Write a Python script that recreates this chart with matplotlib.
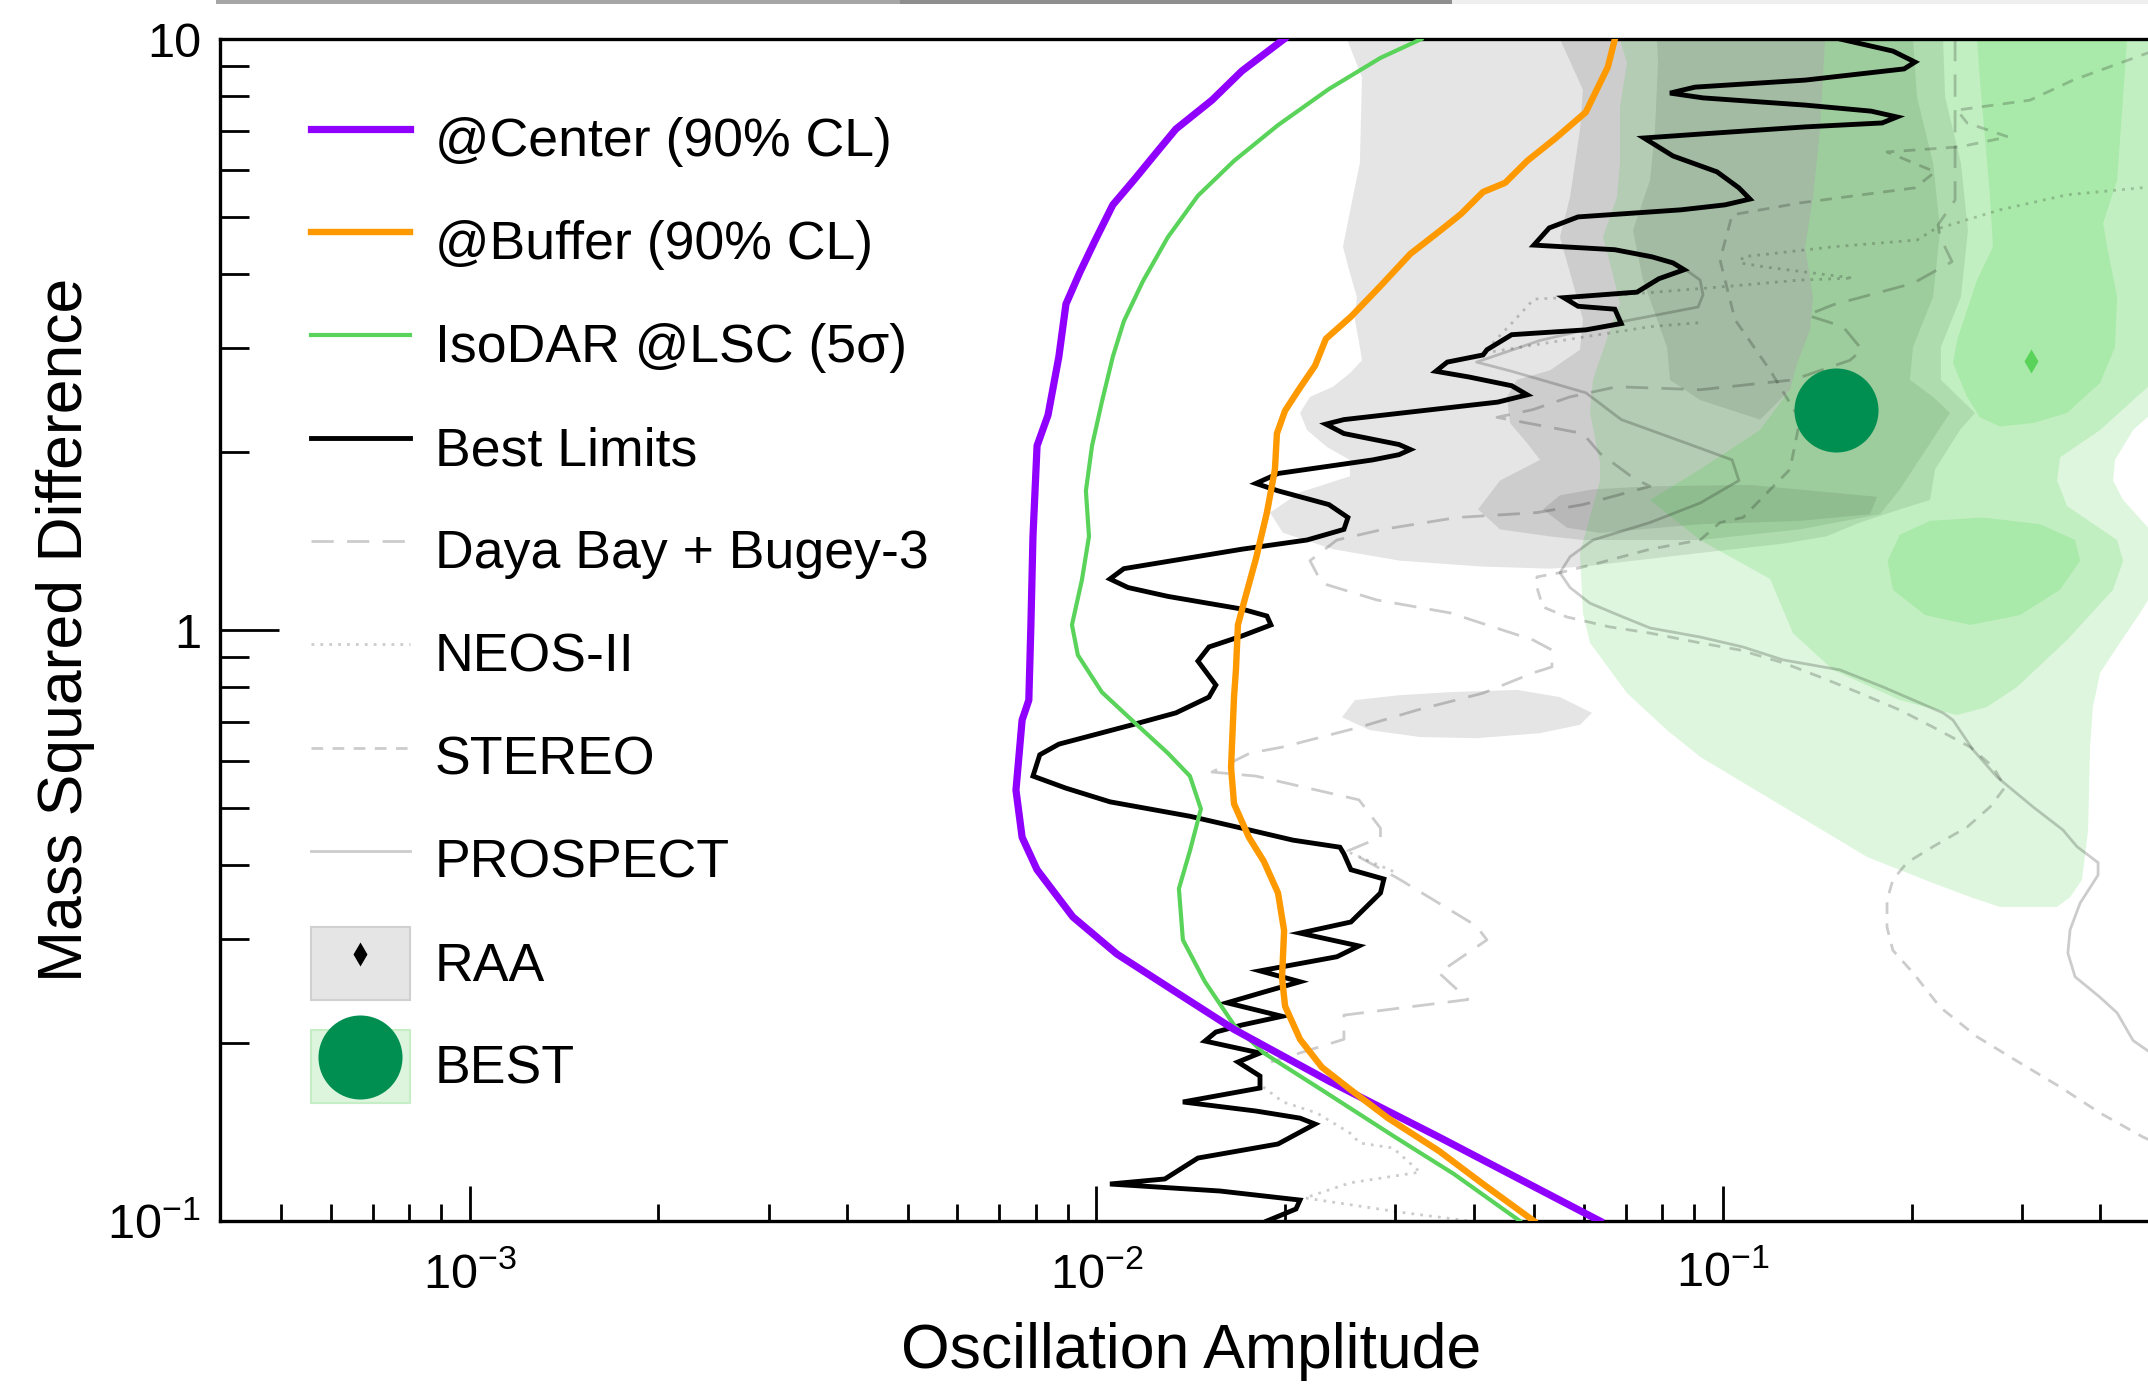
import numpy as np
import matplotlib
matplotlib.use("Agg")
import matplotlib.pyplot as plt
from matplotlib.lines import Line2D
from matplotlib.patches import Patch, Rectangle
from matplotlib.ticker import FixedLocator, FixedFormatter, LogLocator, NullFormatter

plt.rcParams['font.family'] = ['Liberation Sans', 'DejaVu Sans']
plt.rcParams['mathtext.fontset'] = 'custom'
plt.rcParams['mathtext.rm'] = 'Liberation Sans'
plt.rcParams['mathtext.it'] = 'Liberation Sans:italic'
plt.rcParams['mathtext.bf'] = 'Liberation Sans:bold'

nan = float('nan')

# ---------------- data (sin^2 2theta, dm^2) ----------------
center_x = [0.01993, 0.01707, 0.01529, 0.01339, 0.01249, 0.01152, 0.01062, 0.00994, 0.00941, 0.00894,
            0.00871, 0.00837, 0.00804, 0.00792, 0.00786, 0.00780, 0.00761, 0.00744, 0.00761, 0.00804,
            0.00917, 0.01078, 0.01339, 0.01658, 0.0235, 0.0352, 0.0636]
center_y = [10, 8.83, 7.88, 7.04, 6.44, 5.80, 5.24, 4.55, 4.03, 3.56, 2.90, 2.31, 2.05, 1.44, 1.02,
            0.761, 0.704, 0.536, 0.446, 0.393, 0.327, 0.283, 0.244, 0.211, 0.1725, 0.1387, 0.1]

buffer_x = [0.0672, 0.0655, 0.0604, 0.0541, 0.0487, 0.0449, 0.0414, 0.0382, 0.0352, 0.0317,
            0.0284, 0.02548, 0.02324, 0.02233, 0.02113, 0.02000, 0.01941, 0.01927, 0.01871, 0.01797,
            0.01726, 0.01682, 0.01670, 0.01658, 0.01640, 0.01658, 0.01751, 0.01850, 0.01949, 0.01993,
            0.01978, 0.0200, 0.02113, 0.02290, 0.02548, 0.0292, 0.0352, 0.0414, 0.0499]
buffer_y = [10, 8.97, 7.52, 6.80, 6.22, 5.71, 5.51, 5.06, 4.72, 4.33, 3.82, 3.39, 3.11, 2.80, 2.57,
            2.35, 2.15, 1.87, 1.58, 1.32, 1.13, 1.02, 0.859, 0.770, 0.586, 0.508, 0.446, 0.406, 0.359,
            0.310, 0.258, 0.231, 0.203, 0.182, 0.1666, 0.1493, 0.1314, 0.1155, 0.1]

isodar_x = [0.0330, 0.0284, 0.0235, 0.01949, 0.01658, 0.01452, 0.01300, 0.01186, 0.01106, 0.01062,
            0.01020, 0.00984, 0.00962, 0.00973, 0.00948, 0.00914, 0.00934, 0.01020, 0.01139, 0.01300,
            0.01410, 0.01468, 0.01410, 0.01354, 0.01374, 0.01490, 0.01658, 0.01850, 0.02290, 0.02996,
            0.0372, 0.0474]
isodar_y = [10, 9.29, 8.23, 7.15, 6.22, 5.43, 4.62, 3.89, 3.33, 2.90, 2.43, 2.05, 1.72, 1.44, 1.215,
            1.02, 0.907, 0.785, 0.704, 0.619, 0.566, 0.498, 0.423, 0.365, 0.299, 0.254, 0.2146, 0.1924,
            0.1666, 0.1387, 0.1201, 0.1]

bestlim_x = [0.1537, 0.1867, 0.2025, 0.1945, 0.1352, 0.0902, 0.0823, 0.0929, 0.1352, 0.1723,
             0.1895, 0.1794, 0.1352, 0.0929, 0.0748, 0.0832, 0.0978, 0.1060, 0.1104, 0.1007,
             0.0857, 0.0587, 0.0528, 0.0499, 0.0672, 0.0770, 0.0832, 0.0867, 0.0790, 0.0729,
             0.0557, 0.0587, 0.0672, 0.0688, 0.0604, 0.0460, 0.0420, 0.0414, 0.0363, 0.0348,
             0.0393, 0.0460, 0.0487, 0.0437, 0.02483, 0.02324, 0.02483, 0.0304, 0.0317, 0.0304,
             0.0276, 0.01949, 0.01797, 0.01949, 0.0235, 0.02520, 0.02483, 0.02168, 0.01707, 0.01106,
             0.01051, 0.01123, 0.01300, 0.01707, 0.01871, 0.01899, 0.01707, 0.01512, 0.01452, 0.01551,
             0.01512, 0.01339, 0.01139, 0.00871, 0.00812, 0.00792, 0.00894, 0.01051, 0.01410, 0.01707,
             0.02059, 0.02447, 0.02483, 0.02548, 0.02876, 0.0284, 0.02548, 0.02113, 0.02624, 0.02420,
             0.01824, 0.02113, 0.01850, 0.01616, 0.01978, 0.01707, 0.01551, 0.01490, 0.01824, 0.01682,
             0.01824, 0.01824, 0.01374, 0.01797, 0.02113, 0.02233, 0.01949, 0.01452, 0.01286, 0.01051,
             0.01574, 0.02113, 0.02082, 0.01871]
bestlim_y = [10, 9.54, 9.14, 8.90, 8.52, 8.29, 8.10, 7.95, 7.73, 7.55,
             7.38, 7.21, 7.10, 6.91, 6.80, 6.34, 5.96, 5.60, 5.36, 5.24,
             5.14, 5.00, 4.79, 4.48, 4.40, 4.28, 4.18, 4.07, 3.93, 3.73,
             3.65, 3.53, 3.49, 3.30, 3.22, 3.16, 2.98, 2.92, 2.84, 2.74,
             2.68, 2.59, 2.50, 2.43, 2.27, 2.23, 2.15, 2.06, 2.02, 1.98,
             1.94, 1.84, 1.77, 1.72, 1.63, 1.55, 1.48, 1.42, 1.37, 1.27,
             1.22, 1.18, 1.14, 1.085, 1.056, 1.02, 0.977, 0.936, 0.886, 0.807,
             0.770, 0.724, 0.691, 0.641, 0.615, 0.566, 0.540, 0.512, 0.484, 0.462,
             0.441, 0.429, 0.418, 0.393, 0.379, 0.359, 0.3206, 0.307, 0.292, 0.280,
             0.265, 0.254, 0.244, 0.234, 0.222, 0.2146, 0.2088, 0.2016, 0.1924, 0.1858,
             0.1759, 0.1679, 0.1590, 0.1535, 0.1493, 0.1459, 0.1350, 0.1278, 0.1178, 0.1155,
             0.1124, 0.1085, 0.1048, 0.1]

dayabay_x = [0.2346, 0.2346, 0.2204, 0.2221, 0.2320, 0.2010, 0.1498, 0.1362, 0.1554, 0.1667,
             0.1594, 0.1293, 0.09193, 0.06772, 0.05699, 0.04973, 0.04358, 0.05977, 0.06363, 0.07183,
             0.07647, 0.05977, 0.05047, 0.03762, 0.02866, 0.02420, 0.02192, 0.02290, 0.02803, 0.03666,
             0.04973, 0.05333, 0.05333, 0.04973, 0.0414, 0.03248, 0.02633, 0.01985, 0.01758, 0.01529,
             0.01797, 0.02624, 0.0284, 0.0284, 0.02520, 0.0304, 0.04034, 0.0420, 0.0352, 0.03917,
             0.02483, 0.02483, 0.01899]
dayabay_y = [10, 5.34, 4.85, 4.62, 4.20, 3.86, 3.55, 3.41, 3.26, 2.98,
             2.86, 2.65, 2.55, 2.58, 2.48, 2.36, 2.29, 2.15, 1.99, 1.81,
             1.75, 1.63, 1.58, 1.55, 1.48, 1.42, 1.31, 1.20, 1.124, 1.069,
             0.962, 0.925, 0.866, 0.846, 0.782, 0.732, 0.685, 0.634, 0.619, 0.575,
             0.566, 0.516, 0.462, 0.446, 0.423, 0.379, 0.316, 0.299, 0.263, 0.237,
             0.223, 0.203, 0.1858]

neos_x = [0.09126, 0.07647, 0.05977, 0.0414, 0.04571, 0.0499, 0.0688, 0.1034, 0.1327, 0.1612,
          0.1175, 0.1064, 0.1076, 0.1498, 0.2040, 0.2164, 0.2767, 0.3541, 0.5, nan,
          0.02538, 0.03018, nan,
          0.01845, 0.01985, 0.02249, 0.02538, 0.02633, 0.02974, 0.03284, 0.02538, 0.02152, 0.03051, 0.03946]
neos_y = [3.31, 3.26, 3.13, 2.94, 3.28, 3.63, 3.69, 3.82, 3.91, 3.94,
          4.11, 4.18, 4.28, 4.45, 4.57, 4.75, 5.14, 5.45, 5.64, nan,
          0.420, 0.388, nan,
          0.1686, 0.1590, 0.1523, 0.1409, 0.1355, 0.1329, 0.1210, 0.1160, 0.1094, 0.1035, 0.1]

stereo_x = [0.5, 0.4680, 0.3998, 0.3451, 0.2979, 0.2543, 0.2221, 0.2010, 0.1867, 0.1827,
            0.1827, 0.1867, 0.1966, 0.2164, 0.2452, 0.2668, 0.2819, 0.2697, 0.2479, 0.2164,
            0.1916, 0.1654, 0.1444, 0.1247, 0.1064, 0.09193, 0.07647, 0.06600, 0.05636, 0.05159,
            0.05047, 0.05047, 0.05492, 0.06363, 0.07647, 0.09193, 0.09890, 0.1076, 0.1279, 0.1327,
            0.1189, 0.1045, 0.09890, 0.1034, 0.1327, 0.2025, 0.2180, 0.1827, 0.2389, 0.2850,
            0.2452, 0.2363, 0.3090, 0.3620, 0.5]
stereo_y = [0.1345, 0.1387, 0.1523, 0.1686, 0.1851, 0.205, 0.230, 0.263, 0.287, 0.314,
            0.349, 0.378, 0.404, 0.430, 0.464, 0.502, 0.542, 0.587, 0.634, 0.685,
            0.732, 0.782, 0.829, 0.880, 0.925, 0.951, 0.988, 1.012, 1.052, 1.094,
            1.18, 1.23, 1.25, 1.30, 1.37, 1.42, 1.52, 1.55, 1.87, 2.27,
            2.75, 3.35, 4.23, 5.04, 5.28, 5.60, 5.96, 6.44, 6.57, 6.83,
            7.21, 7.58, 7.88, 8.52, 9.65]

prospect_x = [0.08634, 0.09193, 0.0929, 0.09126, 0.06848, 0.05103, 0.04043, 0.0460, 0.0604, 0.0688,
              0.08858, 0.1034, 0.1060, 0.09193, 0.07647, 0.06201, 0.05699, 0.05492, 0.05699, 0.06133,
              0.06924, 0.07647, 0.09193, 0.1076, 0.1247, 0.1537, 0.1800, 0.2245, 0.2328, 0.2506,
              0.2737, 0.3124, 0.3486, 0.3672, 0.3968, 0.3968, 0.3714, 0.3580, 0.3551, 0.3646,
              0.3998, 0.4255, 0.4513, 0.5]
prospect_y = [4.10, 3.91, 3.69, 3.52, 3.32, 3.09, 2.84, 2.74, 2.52, 2.27,
              2.06, 1.94, 1.79, 1.64, 1.52, 1.42, 1.33, 1.25, 1.18, 1.11,
              1.052, 1.008, 0.973, 0.936, 0.890, 0.856, 0.801, 0.724, 0.704, 0.627,
              0.564, 0.502, 0.459, 0.430, 0.404, 0.385, 0.345, 0.311, 0.284, 0.259,
              0.239, 0.225, 0.202, 0.1873]

# RAA allowed regions (outer, middle, inner)
raa_outer_x = [0.02510, 0.02653, 0.02633, 0.02566, 0.02474, 0.02538, 0.02604, 0.02585, 0.02633, 0.02653,
               0.02538, 0.02385, 0.02192, 0.02113, 0.02168, 0.02333, 0.02538, 0.02538, 0.02113, 0.01892,
               0.01985, 0.02385, 0.03051, 0.0414, 0.05294, 0.05977, 0.09193, 0.1247, 0.1462, 0.1654,
               0.1916, 0.2140, 0.2180, 0.2389, 0.2524, 0.2227, 0.2227, 0.2397, 0.2460, 0.2397,
               0.2262, 0.2245]
raa_outer_y = [10, 8.62, 6.17, 5.40, 4.45, 4.02, 3.66, 3.35, 3.01, 2.86,
               2.72, 2.58, 2.48, 2.33, 2.18, 2.04, 1.94, 1.82, 1.71, 1.58,
               1.46, 1.37, 1.31, 1.28, 1.27, 1.28, 1.35, 1.40, 1.44, 1.52,
               1.60, 1.66, 1.87, 2.18, 2.33, 2.65, 3.01, 3.66, 4.75, 6.17,
               7.98, 10]
raa_island_x = [0.02465, 0.02585, 0.03051, 0.03666, 0.04690, 0.05492, 0.06178, 0.05911, 0.05103, 0.04043,
                0.03284, 0.02732]
raa_island_y = [0.712, 0.761, 0.776, 0.785, 0.792, 0.770, 0.724, 0.691, 0.669, 0.656, 0.659, 0.677]
raa_mid_x = [0.05492, 0.05977, 0.05911, 0.05699, 0.05492, 0.05762, 0.05977, 0.05911, 0.05294, 0.04690,
             0.04521, 0.04571, 0.0487, 0.05103, 0.04406, 0.04064, 0.04406, 0.05294, 0.05977, 0.09193,
             0.1327, 0.1781, 0.1916, 0.2303, 0.2164, 0.1988, 0.2010, 0.2164, 0.2221, 0.2164,
             0.2040, 0.2010]
raa_mid_y = [10, 8.20, 7.02, 5.40, 4.62, 3.86, 3.35, 2.98, 2.75, 2.65,
             2.48, 2.24, 2.07, 1.94, 1.79, 1.60, 1.48, 1.44, 1.42, 1.42,
             1.48, 1.57, 1.73, 2.33, 2.48, 2.65, 3.01, 3.66, 4.75, 6.17,
             7.98, 10]
raa_inner_x = [0.07846, 0.07875, 0.07789, 0.07647, 0.07183, 0.07452, 0.08140, 0.0823, 0.09193, 0.1146,
               0.1279, 0.1313, 0.1377, 0.1392, 0.1352, 0.1392, 0.1428, 0.1455]
raa_inner_y = [10, 9.11, 7.02, 5.77, 4.75, 3.91, 3.01, 2.65, 2.45, 2.27,
               2.55, 2.83, 3.22, 3.66, 4.45, 5.40, 7.02, 10]
raa_core_x = [0.05159, 0.05492, 0.06201, 0.07647, 0.1104, 0.1761, 0.1716, 0.1327, 0.09193, 0.06363, 0.05636]
raa_core_y = [1.60, 1.69, 1.73, 1.75, 1.76, 1.68, 1.57, 1.53, 1.51, 1.46, 1.49]

# BEST allowed regions
best_outer_x = [0.06848, 0.07027, 0.06848, 0.06848, 0.06772, 0.06433, 0.06600, 0.06848, 0.06600, 0.06201,
                0.06133, 0.06363, 0.06363, 0.05911, 0.05977, 0.06133, 0.07027, 0.08140, 0.09193, 0.1175,
                0.1698, 0.2164, 0.2506, 0.2767, 0.3413, 0.3580, 0.3741, 0.3825, 0.3853, 0.3893,
                0.3998, 0.4255, 0.4631, 0.5, 0.5, 0.4769, 0.4350, 0.4193, 0.4222, 0.4513,
                0.5, 0.5]
best_outer_y = [10, 9.11, 7.67, 6.17, 5.40, 4.62, 4.18, 3.57, 3.22, 2.65,
                2.33, 1.92, 1.79, 1.35, 1.069, 0.951, 0.782, 0.677, 0.610, 0.522,
                0.413, 0.373, 0.352, 0.340, 0.340, 0.353, 0.378, 0.459, 0.634, 0.741,
                0.846, 0.936, 1.069, 1.22, 1.42, 1.49, 1.66, 1.79, 1.94, 2.18,
                2.40, 10]
best_mid_x = [0.1455, 0.1428, 0.1392, 0.1352, 0.1392, 0.1377, 0.1313, 0.1279, 0.1146, 0.09193,
              0.07647, 0.09193, 0.1189, 0.1293, 0.1498, 0.1916, 0.2363, 0.2638, 0.2946, 0.3541,
              0.4193, 0.4350, 0.4255, 0.3541, 0.3413, 0.3451, 0.3998, 0.5, 0.5]
best_mid_y = [10, 7.02, 5.40, 4.45, 3.66, 3.22, 2.83, 2.55, 2.18, 1.87,
              1.66, 1.42, 1.22, 0.988, 0.856, 0.761, 0.718, 0.741, 0.801, 0.962,
              1.17, 1.31, 1.42, 1.62, 1.79, 1.96, 2.18, 2.70, 10]
best_inner_x = [0.2543, 0.2571, 0.2668, 0.2697, 0.2543, 0.2363, 0.2328, 0.2452, 0.2571, 0.2767,
                0.3124, 0.3541, 0.3998, 0.4222, 0.4255, 0.4102, 0.4042, 0.4255, 0.4350, 0.4414]
best_inner_y = [10, 8.52, 5.40, 4.45, 3.91, 3.09, 2.83, 2.48, 2.29, 2.21,
                2.24, 2.33, 2.62, 3.01, 3.66, 4.45, 4.88, 5.77, 7.98, 10]
best_inner2_x = [0.1831, 0.1916, 0.2140, 0.2600, 0.3206, 0.3646, 0.3714, 0.3451, 0.2979, 0.2479, 0.2101, 0.1867]
best_inner2_y = [1.31, 1.45, 1.53, 1.55, 1.51, 1.42, 1.31, 1.17, 1.06, 1.02, 1.06, 1.17]

best_fit_x = [0.1515]
best_fit_y = [2.356]
best_pt_x = [0.310]
best_pt_y = [2.852]

x_ticks = [1e-3, 1e-2, 1e-1]
x_ticklabels = [r'$\mathdefault{10^{-3}}$', r'$\mathdefault{10^{-2}}$', r'$\mathdefault{10^{-1}}$']
y_ticks = [0.1, 1, 10]
y_ticklabels = [r'$\mathdefault{10^{-1}}$', '1', '10']

labels = ['@Center (90% CL)', '@Buffer (90% CL)', 'IsoDAR @LSC (5σ)', 'Best Limits',
          'Daya Bay + Bugey-3', 'NEOS-II', 'STEREO', 'PROSPECT', 'RAA', 'BEST']

# ---------------- styles ----------------
C_PURPLE = '#9000ff'
C_ORANGE = '#ff9900'
C_GREEN = '#5ad35a'
C_BESTDOT = '#008f50'
GRAY_LINE = (0, 0, 0, 0.2)
LS_DB = (0, (8, 4.8))
LS_NEOS = (0, (1.0, 2.2))
LS_STEREO = (0, (4.2, 3.4))

fig = plt.figure(figsize=(21.48, 13.84), dpi=100)
ax = fig.add_axes([0.10265, 0.11777, 0.90340, 0.85405])
ax.set_xscale('log')
ax.set_yscale('log')
ax.set_xlim(4e-4, 0.5)
ax.set_ylim(0.1, 10)

# filled regions
for xs, ys in [(raa_outer_x, raa_outer_y), (raa_island_x, raa_island_y), (raa_mid_x, raa_mid_y),
               (raa_inner_x, raa_inner_y), (raa_core_x, raa_core_y)]:
    ax.fill(xs, ys, color='k', alpha=0.1, lw=0, zorder=1)
for xs, ys in [(best_outer_x, best_outer_y), (best_mid_x, best_mid_y), (best_inner_x, best_inner_y),
               (best_inner2_x, best_inner2_y)]:
    ax.fill(xs, ys, color='#33cc33', alpha=0.166, lw=0, zorder=1.5)

# existing limits (gray)
ax.plot(dayabay_x, dayabay_y, color=GRAY_LINE, lw=2, ls=LS_DB, zorder=2)
ax.plot(neos_x, neos_y, color=GRAY_LINE, lw=2, ls=LS_NEOS, zorder=2)
ax.plot(stereo_x, stereo_y, color=GRAY_LINE, lw=2, ls=LS_STEREO, zorder=2)
ax.plot(prospect_x, prospect_y, color=GRAY_LINE, lw=2, ls='-', zorder=2)

# sensitivity curves
ax.plot(bestlim_x, bestlim_y, color='k', lw=3.5, zorder=3, solid_joinstyle='miter')
ax.plot(isodar_x, isodar_y, color=C_GREEN, lw=3, zorder=3.2, solid_joinstyle='round')
ax.plot(center_x, center_y, color=C_PURPLE, lw=5.2, zorder=3.4, solid_joinstyle='round')
ax.plot(buffer_x, buffer_y, color=C_ORANGE, lw=4.6, zorder=3.6, solid_joinstyle='round')

ax.plot(best_pt_x, best_pt_y, ls='none', marker='d', ms=12, color=C_GREEN, mec='none', zorder=4)
ax.plot(best_fit_x, best_fit_y, ls='none', marker='o', ms=60.5, color=C_BESTDOT, mec='none', zorder=4)

# axes styling
ax.xaxis.set_major_locator(FixedLocator(x_ticks))
ax.xaxis.set_major_formatter(FixedFormatter(x_ticklabels))
ax.xaxis.set_minor_locator(LogLocator(base=10, subs=[2, 3, 4, 5, 6, 7, 8, 9]))
ax.xaxis.set_minor_formatter(NullFormatter())
ax.yaxis.set_major_locator(FixedLocator(y_ticks))
ax.yaxis.set_major_formatter(FixedFormatter(y_ticklabels))
ax.yaxis.set_minor_locator(LogLocator(base=10, subs=[2, 3, 4, 5, 6, 7, 8, 9]))
ax.yaxis.set_minor_formatter(NullFormatter())

ax.tick_params(axis='y', which='major', direction='in', length=42.5, width=2, labelsize=35, pad=14,
               left=True, right=False)
ax.tick_params(axis='y', which='minor', direction='in', length=21, width=2, left=True, right=False)
ax.tick_params(axis='x', which='major', direction='in', length=25, width=2, labelsize=35, pad=22,
               bottom=True, top=False)
ax.tick_params(axis='x', which='minor', direction='in', length=12.5, width=2, bottom=True, top=False)
for s in ['left', 'bottom', 'top']:
    ax.spines[s].set_linewidth(2.4)
ax.spines['right'].set_visible(False)

ax.set_xlabel('Oscillation Amplitude', fontsize=45, va='top')
ax.xaxis.set_label_coords(0.5, -0.0855)
ax.set_ylabel('Mass Squared Difference', fontsize=45)
ax.yaxis.set_label_coords(-0.0647, 0.5)

# legend
handles = [
    Line2D([], [], color=C_PURPLE, lw=5.2),
    Line2D([], [], color=C_ORANGE, lw=4.6),
    Line2D([], [], color=C_GREEN, lw=3),
    Line2D([], [], color='k', lw=3.5),
    Line2D([], [], color=GRAY_LINE, lw=2, ls=LS_DB),
    Line2D([], [], color=GRAY_LINE, lw=2, ls=LS_NEOS),
    Line2D([], [], color=GRAY_LINE, lw=2, ls=LS_STEREO),
    Line2D([], [], color=GRAY_LINE, lw=2, ls='-'),
    (Patch(facecolor='#e5e5e5', edgecolor='#d0d0d0', lw=1.5),
     Line2D([], [], ls='none', marker='d', ms=12, color='k', mec='none')),
    (Patch(facecolor='#ddf5dd', edgecolor='#c6eec6', lw=1.5),
     Line2D([], [], ls='none', marker='o', ms=60.5, color=C_BESTDOT, mec='none')),
]
ax.legend(handles, labels, loc='upper left', bbox_to_anchor=(0.04664, 0.9467), frameon=False,
          fontsize=38.6, handlelength=1.84, handleheight=1.72, handletextpad=0.47,
          labelspacing=0.56, borderpad=0, borderaxespad=0)

# thin bar at the very top (edge of panel above)
fig.patches.append(Rectangle((216 / 2148, 1 - 4 / 1384), (900 - 216) / 2148, 4 / 1384,
                             transform=fig.transFigure, color='#a6a6a6', lw=0))
fig.patches.append(Rectangle((900 / 2148, 1 - 4 / 1384), (1452 - 900) / 2148, 4 / 1384,
                             transform=fig.transFigure, color='#8e8e8e', lw=0))
fig.patches.append(Rectangle((1452 / 2148, 1 - 4 / 1384), (2148 - 1452) / 2148, 4 / 1384,
                             transform=fig.transFigure, color='#efefef', lw=0))

fig.savefig('out.png', dpi=100)
